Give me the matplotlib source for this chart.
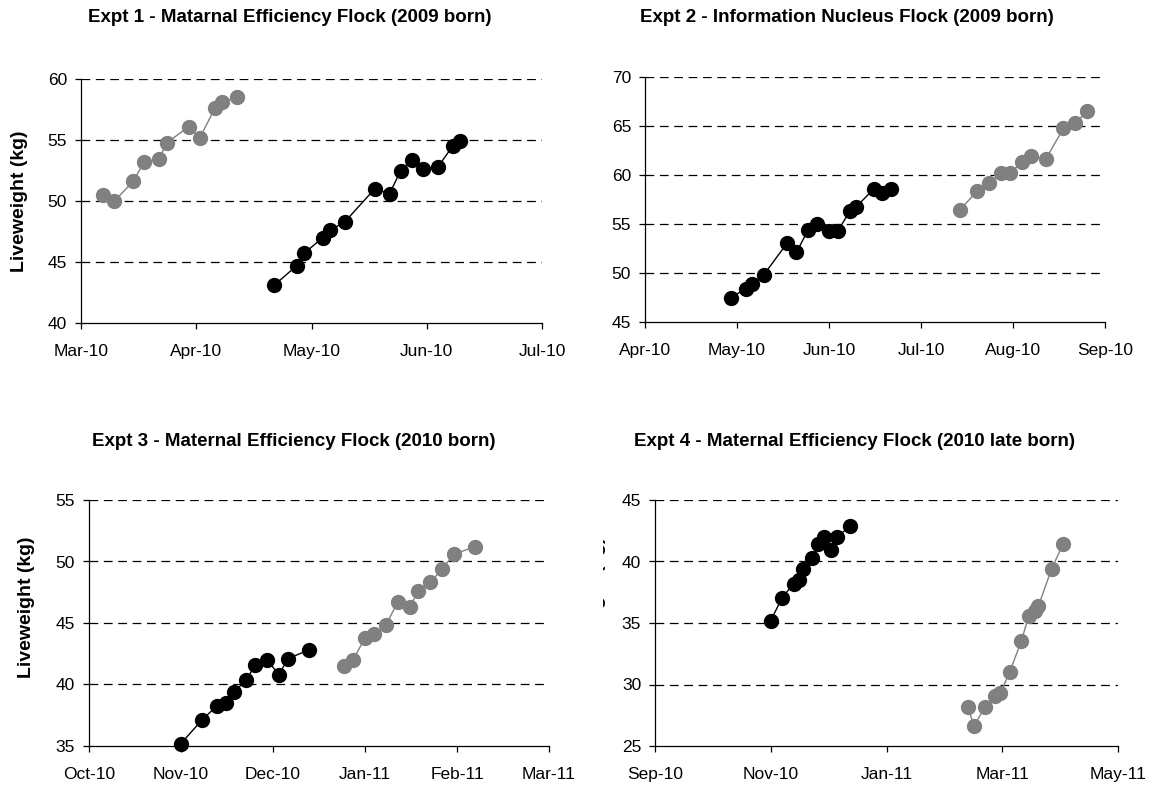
import matplotlib
matplotlib.use("Agg")
import matplotlib.pyplot as plt
import matplotlib.dates as mdates
import numpy as np
import pandas as pd
from matplotlib.transforms import Bbox, TransformedBbox

plt.rcParams['font.family'] = ['Liberation Sans', 'DejaVu Sans']

# Expt 1 - Maternal Efficiency Flock (2009 born)
e1_grey_dates = ['2010-03-07', '2010-03-10', '2010-03-15', '2010-03-18', '2010-03-22', '2010-03-24',
                 '2010-03-30', '2010-04-02', '2010-04-06', '2010-04-08', '2010-04-12']
e1_grey_kg = [50.5, 50.0, 51.6, 53.2, 53.45, 54.75, 56.1, 55.2, 57.6, 58.1, 58.5]
e1_black_dates = ['2010-04-22', '2010-04-28', '2010-04-30', '2010-05-05', '2010-05-07', '2010-05-11',
                  '2010-05-19', '2010-05-23', '2010-05-26', '2010-05-29', '2010-06-01', '2010-06-05',
                  '2010-06-09', '2010-06-11']
e1_black_kg = [43.1, 44.7, 45.7, 47.0, 47.6, 48.3, 51.0, 50.6, 52.5, 53.4, 52.6, 52.8, 54.5, 54.95]

# Expt 2 - Information Nucleus Flock (2009 born)
e2_black_dates = ['2010-04-30', '2010-05-05', '2010-05-07', '2010-05-11', '2010-05-19', '2010-05-22',
                  '2010-05-26', '2010-05-29', '2010-06-02', '2010-06-05', '2010-06-09', '2010-06-11',
                  '2010-06-17', '2010-06-20', '2010-06-23']
e2_black_kg = [47.5, 48.4, 48.9, 49.8, 53.1, 52.1, 54.4, 55.05, 54.3, 54.3, 56.3, 56.7, 58.55, 58.2, 58.6]
e2_grey_dates = ['2010-07-16', '2010-07-22', '2010-07-26', '2010-07-30', '2010-08-02', '2010-08-06',
                 '2010-08-09', '2010-08-14', '2010-08-20', '2010-08-24', '2010-08-28']
e2_grey_kg = [56.4, 58.4, 59.2, 60.2, 60.2, 61.3, 61.9, 61.6, 64.75, 65.3, 66.5]

# Expt 3 - Maternal Efficiency Flock (2010 born)
e3_black_dates = ['2010-11-01', '2010-11-08', '2010-11-13', '2010-11-16', '2010-11-19', '2010-11-23',
                  '2010-11-26', '2010-11-30', '2010-12-04', '2010-12-07', '2010-12-14']
e3_black_kg = [35.2, 37.1, 38.25, 38.5, 39.4, 40.4, 41.55, 42.0, 40.8, 42.1, 42.8]
e3_grey_dates = ['2010-12-26', '2010-12-29', '2011-01-02', '2011-01-05', '2011-01-09', '2011-01-13',
                 '2011-01-17', '2011-01-20', '2011-01-24', '2011-01-28', '2011-02-01', '2011-02-08']
e3_grey_kg = [41.5, 42.0, 43.8, 44.1, 44.8, 46.7, 46.3, 47.6, 48.3, 49.4, 50.6, 51.2]

# Expt 4 - Maternal Efficiency Flock (2010 late born)
e4_black_dates = ['2010-11-01', '2010-11-07', '2010-11-13', '2010-11-16', '2010-11-18', '2010-11-23',
                  '2010-11-26', '2010-11-29', '2010-12-03', '2010-12-06', '2010-12-13']
e4_black_kg = [35.2, 37.05, 38.2, 38.5, 39.4, 40.3, 41.4, 42.0, 40.9, 42.0, 42.9]
e4_grey_dates = ['2011-02-13', '2011-02-16', '2011-02-22', '2011-02-27', '2011-03-02', '2011-03-07',
                 '2011-03-13', '2011-03-17', '2011-03-20', '2011-03-22', '2011-03-29', '2011-04-04']
e4_grey_kg = [28.2, 26.6, 28.2, 29.1, 29.3, 31.05, 33.5, 35.6, 36.0, 36.35, 39.4, 41.4]

titles = ['Expt 1 - Matarnal Efficiency Flock (2009 born)',
          'Expt 2 - Information Nucleus Flock (2009 born)',
          'Expt 3 - Maternal Efficiency Flock (2010 born)',
          'Expt 4 - Maternal Efficiency Flock (2010 late born)']

# axis start, tick step (days), number of steps, y range
x_start = ['2010-03-01', '2010-04-01', '2010-10-01', '2010-09-01']
x_step = [31, 31, 31, 61]
x_nsteps = [4, 5, 5, 4]
y_lims = [(40, 60), (45, 70), (35, 55), (25, 45)]

series = [
    [(e1_grey_dates, e1_grey_kg, 'grey'), (e1_black_dates, e1_black_kg, 'black')],
    [(e2_black_dates, e2_black_kg, 'black'), (e2_grey_dates, e2_grey_kg, 'grey')],
    [(e3_black_dates, e3_black_kg, 'black'), (e3_grey_dates, e3_grey_kg, 'grey')],
    [(e4_black_dates, e4_black_kg, 'black'), (e4_grey_dates, e4_grey_kg, 'grey')],
]

colours = {'grey': '#808080', 'black': '#000000'}

W, H = 1153, 787
fig = plt.figure(figsize=(W / 100, H / 100), dpi=100)

# axes boxes in pixels: left, right, top, bottom
boxes = [(81, 542, 79, 323), (645, 1105, 77, 322), (89, 549, 500, 746), (655, 1118, 500, 746)]
title_pos = [(290, 18), (847, 18), (294, 442), (854, 442)]

for i in range(4):
    l, r, t, b = boxes[i]
    ax = fig.add_axes([l / W, 1 - b / H, (r - l) / W, (b - t) / H])
    for dates, kg, c in series[i]:
        ax.plot(pd.to_datetime(dates), kg, '-o', color=colours[c], lw=1.0,
                markersize=10, clip_on=False, zorder=3)
    start = pd.Timestamp(x_start[i])
    ticks = [start + pd.Timedelta(days=x_step[i] * k) for k in range(x_nsteps[i] + 1)]
    ax.set_xlim(ticks[0], ticks[-1])
    ax.set_xticks(ticks)
    ax.xaxis.set_major_formatter(mdates.DateFormatter('%b-%y'))
    lo, hi = y_lims[i]
    ax.set_ylim(lo, hi)
    ax.set_yticks(np.arange(lo, hi + 1, 5))
    for yv in np.arange(lo + 5, hi + 1, 5):
        ax.axhline(yv, color='black', lw=0.9, ls=(0, (7, 4.5)), zorder=1)
    for s in ['top', 'right']:
        ax.spines[s].set_visible(False)
    for s in ['left', 'bottom']:
        ax.spines[s].set_linewidth(0.9)
    ax.tick_params(axis='both', direction='out', length=4, width=0.9, labelsize=12.5)
    ax.tick_params(axis='y', pad=6)
    ax.tick_params(axis='x', pad=11)
    fig.text(title_pos[i][0] / W, 1 - title_pos[i][1] / H, titles[i], ha='center', va='center',
             fontsize=13.5, fontweight='bold')

fig.text(20 / W, 1 - 201 / H, 'Liveweight (kg)', rotation=90, ha='center', va='center',
         fontsize=14, fontweight='bold')
fig.text(27 / W, 1 - 607 / H, 'Liveweight (kg)', rotation=90, ha='center', va='center',
         fontsize=14, fontweight='bold')

# clipped remnant of the y label on the fourth panel
t4 = fig.text(598 / W, 1 - 607 / H, 'Liveweight (kg)', rotation=90, ha='center', va='center',
              fontsize=14, fontweight='bold')
t4.set_clip_box(TransformedBbox(Bbox([[602.5 / W, 0], [608 / W, 1]]), fig.transFigure))
t4.set_clip_on(True)

fig.savefig('out.png', dpi=100)
